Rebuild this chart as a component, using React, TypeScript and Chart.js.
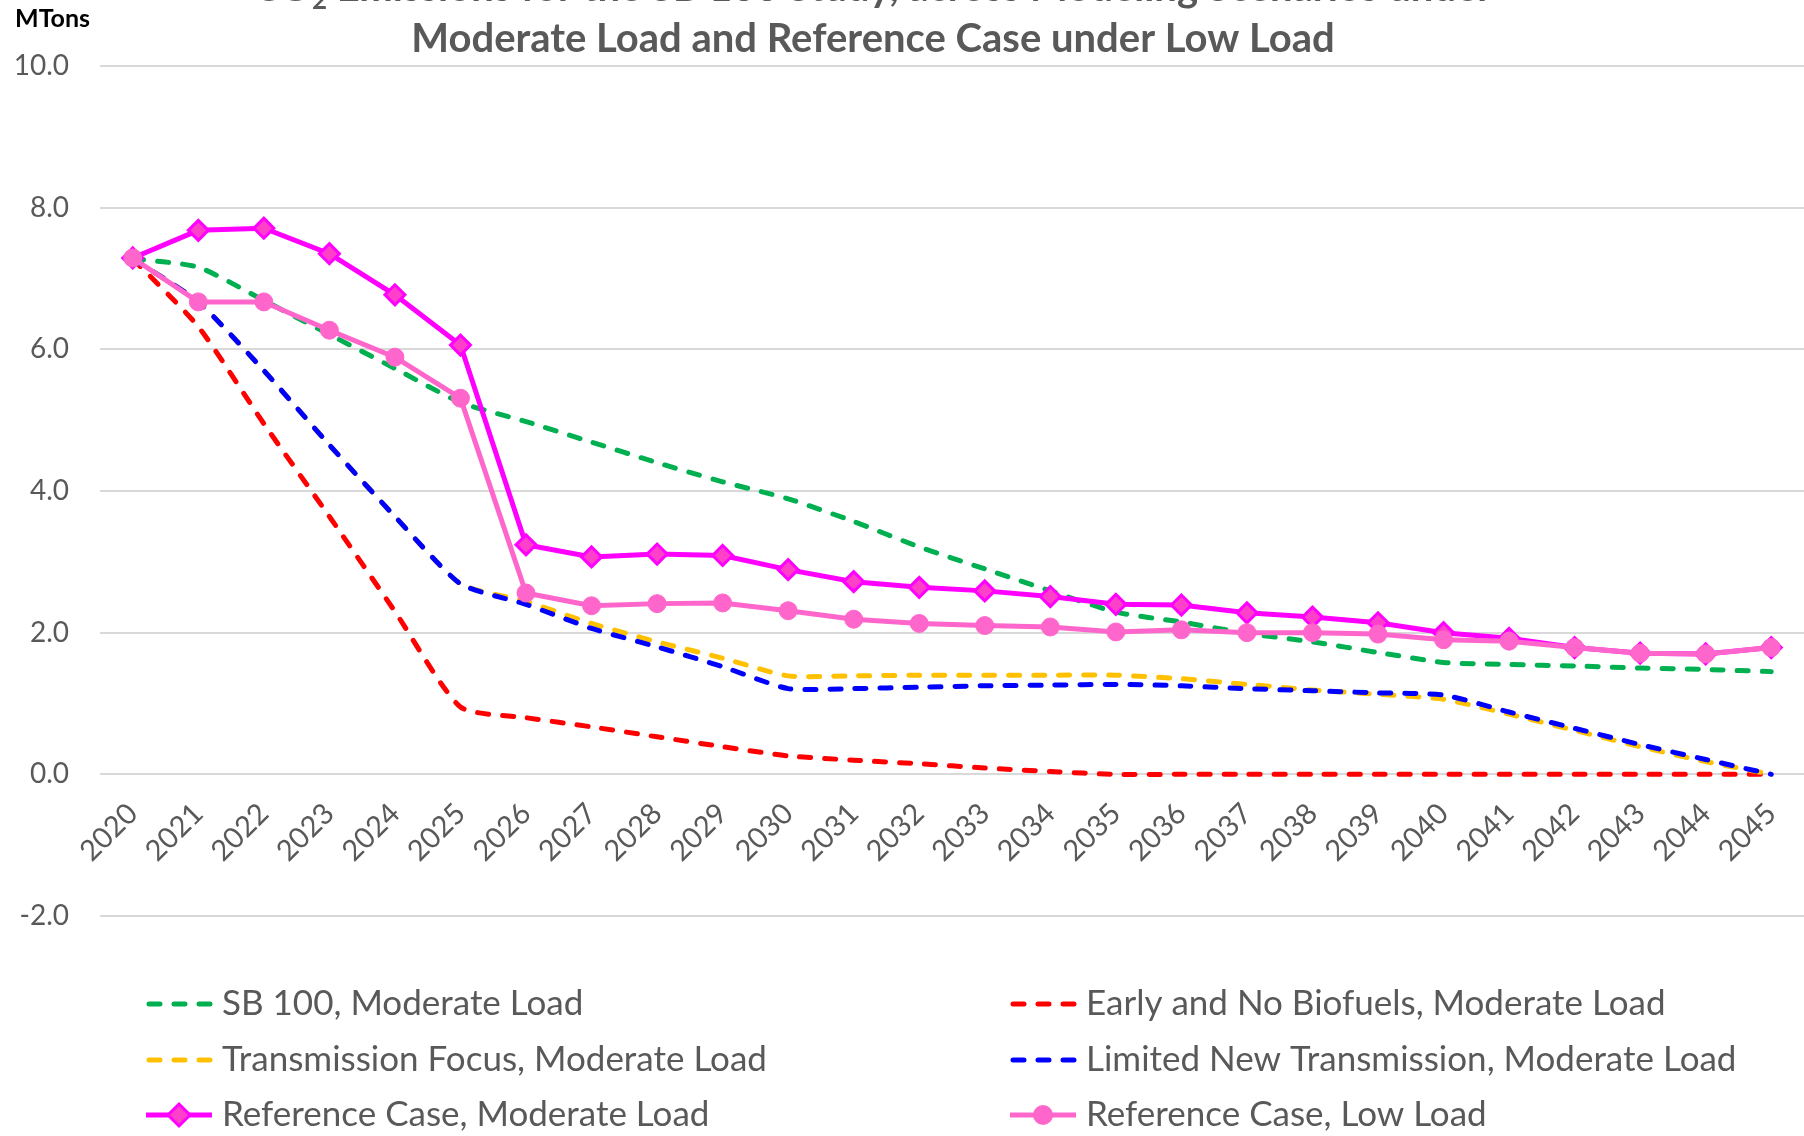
import React, { useEffect, useRef } from 'react';
import { Chart, registerables } from 'chart.js';

Chart.register(...registerables);

const years = ['2020', '2021', '2022', '2023', '2024', '2025', '2026', '2027', '2028', '2029', '2030', '2031', '2032', '2033', '2034', '2035', '2036', '2037', '2038', '2039', '2040', '2041', '2042', '2043', '2044', '2045'];

const sb100Moderate = [7.28, 7.16, 6.69, 6.21, 5.73, 5.25, 4.98, 4.69, 4.40, 4.13, 3.89, 3.57, 3.21, 2.90, 2.59, 2.29, 2.15, 1.99, 1.87, 1.72, 1.58, 1.55, 1.53, 1.50, 1.48, 1.45];
const earlyNoBiofuelsModerate = [7.28, 6.32, 4.95, 3.64, 2.30, 0.95, 0.80, 0.67, 0.53, 0.39, 0.26, 0.20, 0.15, 0.09, 0.04, 0.0, 0.0, 0.0, 0.0, 0.0, 0.0, 0.0, 0.0, 0.0, 0.0, 0.0];
const transmissionFocusModerate = [7.28, 6.67, 5.70, 4.65, 3.64, 2.69, 2.44, 2.13, 1.87, 1.64, 1.39, 1.39, 1.40, 1.40, 1.40, 1.40, 1.35, 1.27, 1.19, 1.13, 1.06, 0.85, 0.62, 0.39, 0.18, 0.0];
const limitedNewTransmissionModerate = [7.28, 6.67, 5.70, 4.65, 3.64, 2.69, 2.40, 2.06, 1.80, 1.52, 1.21, 1.21, 1.23, 1.25, 1.26, 1.27, 1.25, 1.21, 1.18, 1.15, 1.12, 0.88, 0.65, 0.42, 0.21, 0.0];
const referenceModerate = [7.29, 7.68, 7.71, 7.35, 6.77, 6.06, 3.24, 3.07, 3.11, 3.09, 2.89, 2.72, 2.64, 2.59, 2.51, 2.40, 2.39, 2.28, 2.22, 2.14, 2.00, 1.92, 1.79, 1.71, 1.70, 1.79];
const referenceLow = [7.29, 6.67, 6.67, 6.27, 5.89, 5.31, 2.56, 2.38, 2.41, 2.42, 2.31, 2.19, 2.13, 2.10, 2.08, 2.01, 2.04, 2.00, 2.00, 1.98, 1.90, 1.88, 1.79, 1.71, 1.70, 1.79];

const yTicks = [-2, 0, 2, 4, 6, 8, 10];

const seriesLabels = [
  'SB 100, Moderate Load',
  'Early and No Biofuels, Moderate Load',
  'Transmission Focus, Moderate Load',
  'Limited New Transmission, Moderate Load',
  'Reference Case, Moderate Load',
  'Reference Case, Low Load',
];

const titleLine1Pre = 'CO';
const titleLine1Sub = '2';
const titleLine1Post = ' Emissions for the SB 100 Study, across Modeling Scenarios under';
const titleLine2 = 'Moderate Load and Reference Case under Low Load';
const unitLabel = 'MTons';

const FONT = 'Lato, "Open Sans", sans-serif';
const GREY = '#595959';

const COLORS = ['#00B050', '#FF0000', '#FFC000', '#0000FF', '#FF00FF', '#FF66CC'];
const DASH = [11, 14];

function drawMarker(ctx: CanvasRenderingContext2D, kind: string, x: number, y: number) {
  if (kind === 'diamond') {
    const r = 11;
    ctx.beginPath();
    ctx.moveTo(x, y - r);
    ctx.lineTo(x + r, y);
    ctx.lineTo(x, y + r);
    ctx.lineTo(x - r, y);
    ctx.closePath();
    ctx.fillStyle = '#FF40C8';
    ctx.fill();
    ctx.lineWidth = 3;
    ctx.strokeStyle = '#FF00FF';
    ctx.setLineDash([]);
    ctx.stroke();
  } else if (kind === 'circle') {
    ctx.beginPath();
    ctx.arc(x, y, 10, 0, Math.PI * 2);
    ctx.fillStyle = '#FF66CC';
    ctx.fill();
  }
}

export default function App() {
  const ref = useRef<HTMLCanvasElement | null>(null);

  useEffect(() => {
    const canvas = ref.current;
    if (!canvas) return;

    const legendDefs = [
      { label: seriesLabels[0], color: COLORS[0], dashed: true, marker: '' },
      { label: seriesLabels[1], color: COLORS[1], dashed: true, marker: '' },
      { label: seriesLabels[2], color: COLORS[2], dashed: true, marker: '' },
      { label: seriesLabels[3], color: COLORS[3], dashed: true, marker: '' },
      { label: seriesLabels[4], color: COLORS[4], dashed: false, marker: 'diamond' },
      { label: seriesLabels[5], color: COLORS[5], dashed: false, marker: 'circle' },
    ];

    const overlay = {
      id: 'overlay',
      afterDraw(chart: any) {
        const ctx: CanvasRenderingContext2D = chart.ctx;
        ctx.save();
        // Title
        ctx.fillStyle = GREY;
        ctx.textBaseline = 'alphabetic';
        const big = `bold 40px ${FONT}`;
        const small = `bold 26px ${FONT}`;
        const cx = 873;
        ctx.font = big;
        const w1 = ctx.measureText(titleLine1Pre).width;
        ctx.font = small;
        const wSub = ctx.measureText(titleLine1Sub).width;
        ctx.font = big;
        const w2 = ctx.measureText(titleLine1Post).width;
        let sx = cx - (w1 + wSub + w2) / 2;
        ctx.textAlign = 'left';
        ctx.fillText(titleLine1Pre, sx, 1);
        sx += w1;
        ctx.font = small;
        ctx.fillText(titleLine1Sub, sx, 9);
        sx += wSub;
        ctx.font = big;
        ctx.fillText(titleLine1Post, sx, 1);
        ctx.textAlign = 'center';
        ctx.fillText(titleLine2, cx, 52);

        // Unit label
        ctx.textAlign = 'left';
        ctx.fillStyle = '#000000';
        ctx.font = `bold 25px ${FONT}`;
        ctx.fillText(unitLabel, 15, 27);

        // Legend
        const colX = [146, 1010];
        const rowY = [1004, 1060, 1115];
        legendDefs.forEach((d, i) => {
          const x0 = colX[i % 2];
          const y0 = rowY[Math.floor(i / 2)];
          ctx.beginPath();
          ctx.lineWidth = 5;
          ctx.strokeStyle = d.color;
          ctx.lineCap = d.dashed ? 'round' : 'butt';
          ctx.setLineDash(d.dashed ? DASH : []);
          ctx.moveTo(x0 + (d.dashed ? 3 : 0), y0);
          ctx.lineTo(x0 + 66, y0);
          ctx.stroke();
          ctx.setLineDash([]);
          if (d.marker) drawMarker(ctx, d.marker, x0 + 33, y0);
          ctx.fillStyle = GREY;
          ctx.font = `35px ${FONT}`;
          ctx.textAlign = 'left';
          ctx.textBaseline = 'middle';
          ctx.fillText(d.label, x0 + 76, y0);
        });
        ctx.restore();
      },
    };

    const dashed = (label: string, data: number[], color: string, order: number) => ({
      label,
      data,
      borderColor: color,
      backgroundColor: color,
      borderWidth: 5,
      borderDash: DASH,
      borderCapStyle: 'round' as const,
      pointRadius: 0,
      tension: 0.2,
      fill: false,
      order,
    });

    const chart = new Chart(canvas, {
      type: 'line',
      data: {
        labels: years,
        datasets: [
          dashed(seriesLabels[0], sb100Moderate, COLORS[0], 5),
          dashed(seriesLabels[1], earlyNoBiofuelsModerate, COLORS[1], 4),
          dashed(seriesLabels[2], transmissionFocusModerate, COLORS[2], 3),
          dashed(seriesLabels[3], limitedNewTransmissionModerate, COLORS[3], 2),
          {
            label: seriesLabels[4],
            data: referenceModerate,
            borderColor: COLORS[4],
            backgroundColor: '#FF40C8',
            borderWidth: 5,
            pointStyle: 'rectRot',
            pointRadius: 10,
            pointBorderWidth: 3,
            pointBorderColor: '#FF00FF',
            pointBackgroundColor: '#FF40C8',
            tension: 0,
            fill: false,
            order: 1,
          },
          {
            label: seriesLabels[5],
            data: referenceLow,
            borderColor: COLORS[5],
            backgroundColor: COLORS[5],
            borderWidth: 5,
            pointStyle: 'circle',
            pointRadius: 9,
            pointBorderWidth: 1,
            pointBorderColor: COLORS[5],
            pointBackgroundColor: COLORS[5],
            tension: 0,
            fill: false,
            order: 0,
          },
        ],
      },
      options: {
        responsive: false,
        devicePixelRatio: 1,
        animation: false,
        events: [],
        layout: { autoPadding: false, padding: { left: 0, right: 0, top: 66, bottom: 220 } },
        plugins: {
          legend: { display: false },
          title: { display: false },
          tooltip: { enabled: false },
        },
        scales: {
          x: {
            type: 'category',
            position: { y: 0 } as any,
            offset: true,
            afterFit: (s: any) => {
              s.paddingLeft = 0;
              s.paddingRight = 0;
            },
            grid: { display: false, drawTicks: false },
            border: { display: false },
            ticks: {
              autoSkip: false,
              minRotation: 45,
              maxRotation: 45,
              padding: 22,
              color: GREY,
              font: { family: FONT, size: 29 },
            },
          },
          y: {
            min: -2,
            max: 10,
            afterFit: (s: any) => {
              s.width = 100;
            },
            afterBuildTicks: (s: any) => {
              s.ticks = yTicks.map((v) => ({ value: v }));
            },
            grid: { color: '#D9D9D9', lineWidth: 2, drawTicks: false },
            border: { display: false },
            ticks: {
              padding: 31,
              color: GREY,
              font: { family: FONT, size: 28 },
              callback: (v: any) => Number(v).toFixed(1),
            },
          },
        },
      },
      plugins: [overlay],
    });

    return () => chart.destroy();
  }, []);

  return (
    <div style={{ position: 'absolute', left: 0, top: 0, width: 1804, height: 1136, background: '#ffffff' }}>
      <canvas ref={ref} width={1804} height={1136} style={{ width: 1804, height: 1136, display: 'block' }} />
    </div>
  );
}
